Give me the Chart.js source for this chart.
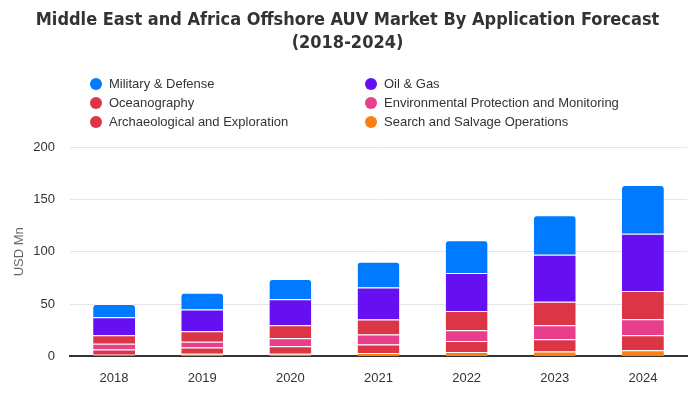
<!DOCTYPE html>
<html>
<head>
<meta charset="utf-8">
<script src="https://cdn.jsdelivr.net/npm/chart.js@4"></script>
<style>
  html, body { margin: 0; padding: 0; background: #fff; }
  #wrap { position: relative; width: 700px; height: 400px; }
  #legend { position: absolute; left: 90px; top: 74px; width: 600px; font-family: "Liberation Sans", Arial, sans-serif; font-size: 13px; color: #333; }
  .item { position: absolute; height: 19px; line-height: 19px; white-space: nowrap; }
  .dot { display: inline-block; width: 12px; height: 12px; border-radius: 50%; vertical-align: middle; margin-right: 7px; position: relative; top: -1px; }
</style>
</head>
<body>
<div id="wrap">
  <canvas id="c" width="700" height="400"></canvas>
  <div id="legend"></div>
</div>
<script>
const categories = ["2018", "2019", "2020", "2021", "2022", "2023", "2024"];
const searchSalvage   = [1.6, 2.6, 2.6, 3.3, 4.1, 4.8, 5.8];
const archaeological  = [5.1, 5.8, 7.0, 8.0, 10.6, 11.5, 14.4];
const environmental   = [5.5, 5.7, 7.7, 9.6, 10.3, 13.5, 15.4];
const oceanography    = [8.0, 9.9, 12.5, 14.4, 18.3, 22.4, 26.9];
const oilGas          = [17.3, 20.9, 24.7, 30.5, 36.5, 44.9, 54.8];
const militaryDefense = [12.5, 16.0, 19.5, 24.6, 31.1, 37.8, 46.5];
const yTicks = [0, 50, 100, 150, 200];

const titleLines = ["Middle East and Africa Offshore AUV Market By Application Forecast", "(2018-2024)"];

const series = [
  { label: "Search and Salvage Operations", data: searchSalvage, color: "#fd7e14" },
  { label: "Archaeological and Exploration", data: archaeological, color: "#dc3545" },
  { label: "Environmental Protection and Monitoring", data: environmental, color: "#e83e8c" },
  { label: "Oceanography", data: oceanography, color: "#dc3545" },
  { label: "Oil & Gas", data: oilGas, color: "#6610f2" },
  { label: "Military & Defense", data: militaryDefense, color: "#007bff" }
];

const datasets = series.map((s, i) => ({
  label: s.label,
  data: s.data,
  backgroundColor: s.color,
  borderColor: "#ffffff",
  borderWidth: { top: 1, bottom: 0, left: 0, right: 0 },
  borderSkipped: false,
  borderRadius: i === series.length - 1 ? { topLeft: 4, topRight: 4, bottomLeft: 0, bottomRight: 0 } : 0,
  barPercentage: 1.0,
  categoryPercentage: 0.475
}));

// HTML legend in two columns
const legendOrder = ["Military & Defense", "Oil & Gas", "Oceanography", "Environmental Protection and Monitoring", "Archaeological and Exploration", "Search and Salvage Operations"];
const legendEl = document.getElementById("legend");
legendOrder.forEach((name, idx) => {
  const s = series.find(x => x.label === name);
  const div = document.createElement("div");
  div.className = "item";
  div.style.left = (idx % 2 === 0 ? 0 : 275) + "px";
  div.style.top = (Math.floor(idx / 2) * 19) + "px";
  const dot = document.createElement("span");
  dot.className = "dot";
  dot.style.background = s.color;
  div.appendChild(dot);
  div.appendChild(document.createTextNode(name));
  legendEl.appendChild(div);
});

new Chart(document.getElementById("c"), {
  type: "bar",
  data: { labels: categories, datasets: datasets },
  options: {
    responsive: false,
    animation: false,
    layout: { padding: { left: 8, right: 13, top: 9, bottom: 0 } },
    plugins: {
      legend: { display: false },
      tooltip: { enabled: false },
      title: {
        display: true,
        text: titleLines,
        color: "#333333",
        font: { family: "'Liberation Sans Narrow', 'DejaVu Sans Condensed', sans-serif", size: 18, weight: "bold", lineHeight: 1.28 },
        padding: { top: 0, bottom: 92 }
      }
    },
    scales: {
      x: {
        stacked: true,
        grid: { display: false, drawTicks: false },
        border: { display: true, color: "#333333", width: 2 },
        ticks: { color: "#333333", font: { family: "'Liberation Sans', Arial, sans-serif", size: 13 }, padding: 14, maxRotation: 0 }
      },
      y: {
        stacked: true,
        min: 0,
        max: 200,
        afterBuildTicks: (axis) => { axis.ticks = yTicks.map(v => ({ value: v })); },
        afterFit: (axis) => { axis.width = 62; },
        grid: { color: "#e6e6e6", drawTicks: false },
        border: { display: false },
        ticks: { color: "#333333", font: { family: "'Liberation Sans', Arial, sans-serif", size: 13 }, padding: 15 },
        title: { display: true, text: "USD Mn", color: "#666666", font: { family: "'Liberation Sans', Arial, sans-serif", size: 13 }, padding: { top: 4, bottom: 4 } }
      }
    }
  }
});
</script>
</body>
</html>
